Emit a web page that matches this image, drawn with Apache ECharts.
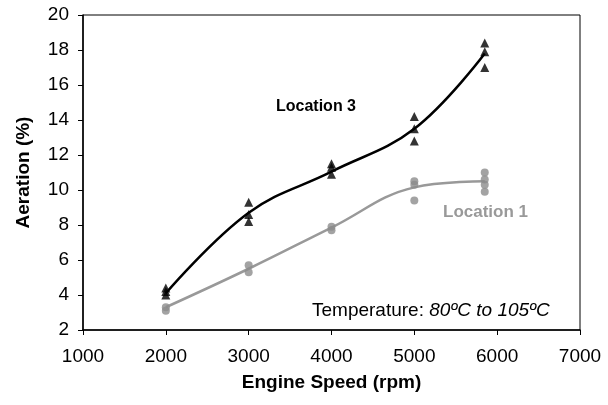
<!DOCTYPE html>
<html><head><meta charset="utf-8">
<script src="https://cdn.jsdelivr.net/npm/echarts@6/dist/echarts.min.js"></script>
<style>html,body{margin:0;padding:0;background:#fff}#c{width:608px;height:405px}</style>
</head><body><div id="c"></div>
<script>
const xTicks = [1000, 2000, 3000, 4000, 5000, 6000, 7000];
const yTicks = [2, 4, 6, 8, 10, 12, 14, 16, 18, 20];
const speeds = [2000, 3000, 4000, 5000, 5850];
const loc3X = [2000, 2000, 2000, 3000, 3000, 3000, 4000, 4000, 4000, 5000, 5000, 5000, 5850, 5850, 5850];
const loc3Y = [4.4, 4.2, 4.0, 9.3, 8.6, 8.2, 11.5, 11.3, 10.9, 14.2, 13.5, 12.8, 18.4, 17.9, 17.0];
const loc1X = [2000, 2000, 3000, 3000, 4000, 4000, 5000, 5000, 5000, 5850, 5850, 5850, 5850];
const loc1Y = [3.3, 3.1, 5.7, 5.3, 7.9, 7.7, 10.5, 10.3, 9.4, 11.0, 10.6, 10.3, 9.9];
const loc3Fit = [4.1, 8.7, 11.05, 13.5, 17.8];
const loc1Fit = [3.3, 5.5, 7.85, 10.15, 10.5];

const zip = (a, b) => a.map((v, i) => [v, b[i]]);
const font = '"Liberation Sans", Arial, sans-serif';
const chart = echarts.init(document.getElementById('c'));
chart.setOption({
  animation: false,
  grid: { left: 83, top: 15, right: 28, bottom: 75, show: true, borderColor: '#000', borderWidth: 1, backgroundColor: 'transparent' },
  xAxis: {
    type: 'value', min: 1000, max: 7000, interval: 1000,
    name: 'Engine Speed (rpm)', nameLocation: 'middle', nameGap: 43,
    nameTextStyle: { fontFamily: font, fontSize: 19, fontWeight: 'bold', color: '#000' },
    axisLine: { lineStyle: { color: '#000', width: 1.5 } },
    axisTick: { length: 5, lineStyle: { color: '#000' } },
    axisLabel: { fontFamily: font, fontSize: 19, color: '#000', margin: 17, formatter: v => String(v) },
    splitLine: { show: false }
  },
  yAxis: {
    type: 'value', min: 2, max: 20, interval: 2,
    name: 'Aeration (%)', nameLocation: 'middle', nameGap: 50, nameRotate: 90,
    nameTextStyle: { fontFamily: font, fontSize: 19, fontWeight: 'bold', color: '#000' },
    axisLine: { show: true, lineStyle: { color: '#000', width: 1.5 } },
    axisTick: { show: true, length: 5, lineStyle: { color: '#000' } },
    axisLabel: { fontFamily: font, fontSize: 19, color: '#000', margin: 14 },
    splitLine: { show: false }
  },
  series: [
    { type: 'line', data: zip(speeds, loc1Fit), smooth: 0.4, showSymbol: false, lineStyle: { color: '#999', width: 2.5 }, z: 2 },
    { type: 'line', data: zip(speeds, loc3Fit), smooth: 0.4, showSymbol: false, lineStyle: { color: '#000', width: 2.5 }, z: 2 },
    { type: 'scatter', data: zip(loc1X, loc1Y), symbol: 'circle', symbolSize: 8, itemStyle: { color: '#8c8c8c' }, z: 3 },
    { type: 'scatter', data: zip(loc3X, loc3Y), symbol: 'triangle', symbolSize: 9, itemStyle: { color: '#000' }, z: 4 }
  ],
  graphic: [
    { type: 'text', left: 276, top: 99, style: { text: 'Location 3', font: 'bold 16px ' + font, fill: '#000' } },
    { type: 'text', left: 443, top: 204, style: { text: 'Location 1', font: 'bold 17px ' + font, fill: '#999' } },
    { type: 'text', left: 312, top: 301, style: { rich: { a: { font: '19px ' + font, fill: '#000' }, b: { font: 'italic 19px ' + font, fill: '#000' } }, text: '{a|Temperature: }{b|80ºC to 105ºC}' } }
  ]
});
</script></body></html>
